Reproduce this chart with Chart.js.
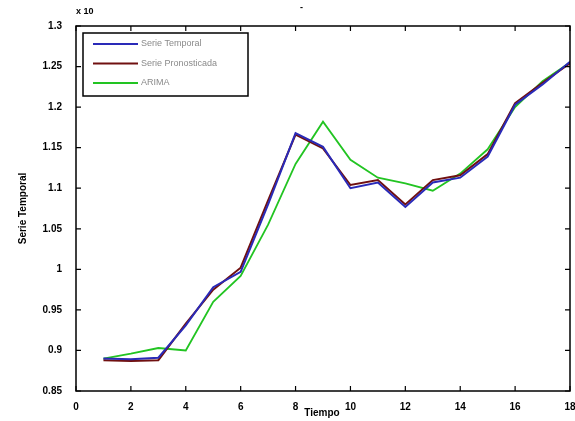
<!DOCTYPE html>
<html>
<head>
<meta charset="utf-8">
<script src="https://cdn.jsdelivr.net/npm/chart.js@4.4.1/dist/chart.umd.min.js"></script>
<style>
  html, body { margin: 0; padding: 0; background: #fff; }
  #wrap { width: 575px; height: 421px; }
</style>
</head>
<body>
<div id="wrap"><canvas id="c" width="575" height="421"></canvas></div>
<script>
// Time steps and the three series
const tiempo = [1, 2, 3, 4, 5, 6, 7, 8, 9, 10, 11, 12, 13, 14, 15, 16, 17, 18];
const serieTemporal   = [0.890, 0.889, 0.891, 0.931, 0.978, 0.997, 1.080, 1.168, 1.151, 1.100, 1.107, 1.077, 1.107, 1.113, 1.139, 1.203, 1.228, 1.256];
const seriePronostico = [0.888, 0.887, 0.888, 0.933, 0.975, 1.002, 1.085, 1.166, 1.149, 1.104, 1.110, 1.080, 1.110, 1.116, 1.142, 1.205, 1.230, 1.254];
const arima           = [0.890, 0.896, 0.903, 0.900, 0.960, 0.992, 1.055, 1.130, 1.182, 1.135, 1.113, 1.106, 1.097, 1.118, 1.148, 1.200, 1.232, 1.255];
const seriesNames = ['Serie Temporal', 'Serie Pronosticada', 'ARIMA'];
const xTicks = [0, 2, 4, 6, 8, 10, 12, 14, 16, 18];

const pts = arr => tiempo.map((t, i) => ({ x: t, y: arr[i] }));
const FONT = 'Liberation Sans, Arial, sans-serif';

// Box, inward ticks, axis titles and legend
const matlabFrame = {
  id: 'matlabFrame',
  afterDraw(chart) {
    const { ctx, chartArea: a, scales } = chart;
    ctx.save();
    ctx.strokeStyle = '#000';
    ctx.lineWidth = 1.5;
    ctx.strokeRect(a.left, a.top, a.right - a.left, a.bottom - a.top);
    ctx.lineWidth = 1.2;
    const tl = 5;
    scales.x.ticks.forEach(t => {
      const px = scales.x.getPixelForValue(t.value);
      ctx.beginPath();
      ctx.moveTo(px, a.bottom); ctx.lineTo(px, a.bottom - tl);
      ctx.moveTo(px, a.top); ctx.lineTo(px, a.top + tl);
      ctx.stroke();
    });
    scales.y.ticks.forEach(t => {
      const py = scales.y.getPixelForValue(t.value);
      ctx.beginPath();
      ctx.moveTo(a.left, py); ctx.lineTo(a.left + tl, py);
      ctx.moveTo(a.right, py); ctx.lineTo(a.right - tl, py);
      ctx.stroke();
    });

    // axis titles
    ctx.fillStyle = '#000';
    ctx.font = 'bold 10px ' + FONT;
    ctx.textAlign = 'center';
    ctx.textBaseline = 'middle';
    ctx.fillText('Tiempo', (a.left + a.right) / 2 - 1, 413);
    ctx.save();
    ctx.translate(23, (a.top + a.bottom) / 2);
    ctx.rotate(-Math.PI / 2);
    ctx.fillText('Serie Temporal', 0, 0);
    ctx.restore();
    ctx.font = 'bold 9px ' + FONT;
    ctx.textAlign = 'left';
    ctx.fillText('x 10', 76, 12);
    ctx.fillText('-', 300, 8);

    // legend
    const lx = 83, ly = 33, lw = 165, lh = 63;
    ctx.fillStyle = '#fff';
    ctx.fillRect(lx, ly, lw, lh);
    ctx.lineWidth = 1.5;
    ctx.strokeStyle = '#000';
    ctx.strokeRect(lx, ly, lw, lh);
    chart.data.datasets.forEach((ds, i) => {
      const y = ly + 11 + i * 19.5;
      ctx.strokeStyle = ds.borderColor;
      ctx.lineWidth = 2;
      ctx.beginPath();
      ctx.moveTo(lx + 10, y); ctx.lineTo(lx + 55, y);
      ctx.stroke();
      ctx.fillStyle = '#8a8a8a';
      ctx.font = '9px ' + FONT;
      ctx.textAlign = 'left';
      ctx.textBaseline = 'middle';
      ctx.fillText(ds.label, lx + 58, y);
    });
    ctx.restore();
  }
};

new Chart(document.getElementById('c'), {
  type: 'line',
  data: {
    datasets: [
      { label: seriesNames[0], data: pts(serieTemporal), borderColor: '#2a2ab8', borderWidth: 2 },
      { label: seriesNames[1], data: pts(seriePronostico), borderColor: '#701010', borderWidth: 2 },
      { label: seriesNames[2], data: pts(arima), borderColor: '#22c422', borderWidth: 1.8 }
    ]
  },
  options: {
    responsive: false,
    animation: false,
    devicePixelRatio: 1,
    elements: { point: { radius: 0 }, line: { tension: 0 } },
    layout: { padding: { top: 26, right: 5, left: 0, bottom: 0 } },
    plugins: { legend: { display: false }, tooltip: { enabled: false } },
    scales: {
      x: {
        type: 'linear', min: 0, max: 18,
        afterBuildTicks: s => { s.ticks = xTicks.map(v => ({ value: v })); },
        afterFit: s => { s.height = 30; s.paddingLeft = 0; s.paddingRight = 0; },
        grid: { display: false },
        border: { display: false },
        ticks: { color: '#000', font: { family: FONT, size: 10, weight: 'bold' }, padding: 2, maxRotation: 0 }
      },
      y: {
        min: 0.85, max: 1.3,
        afterFit: s => { s.width = 76; s.paddingTop = 0; s.paddingBottom = 0; },
        grid: { display: false },
        border: { display: false },
        ticks: {
          stepSize: 0.05, color: '#000', padding: 6,
          font: { family: FONT, size: 10, weight: 'bold' },
          callback: v => String(+v.toFixed(2))
        }
      }
    }
  },
  plugins: [matlabFrame]
});
</script>
</body>
</html>
